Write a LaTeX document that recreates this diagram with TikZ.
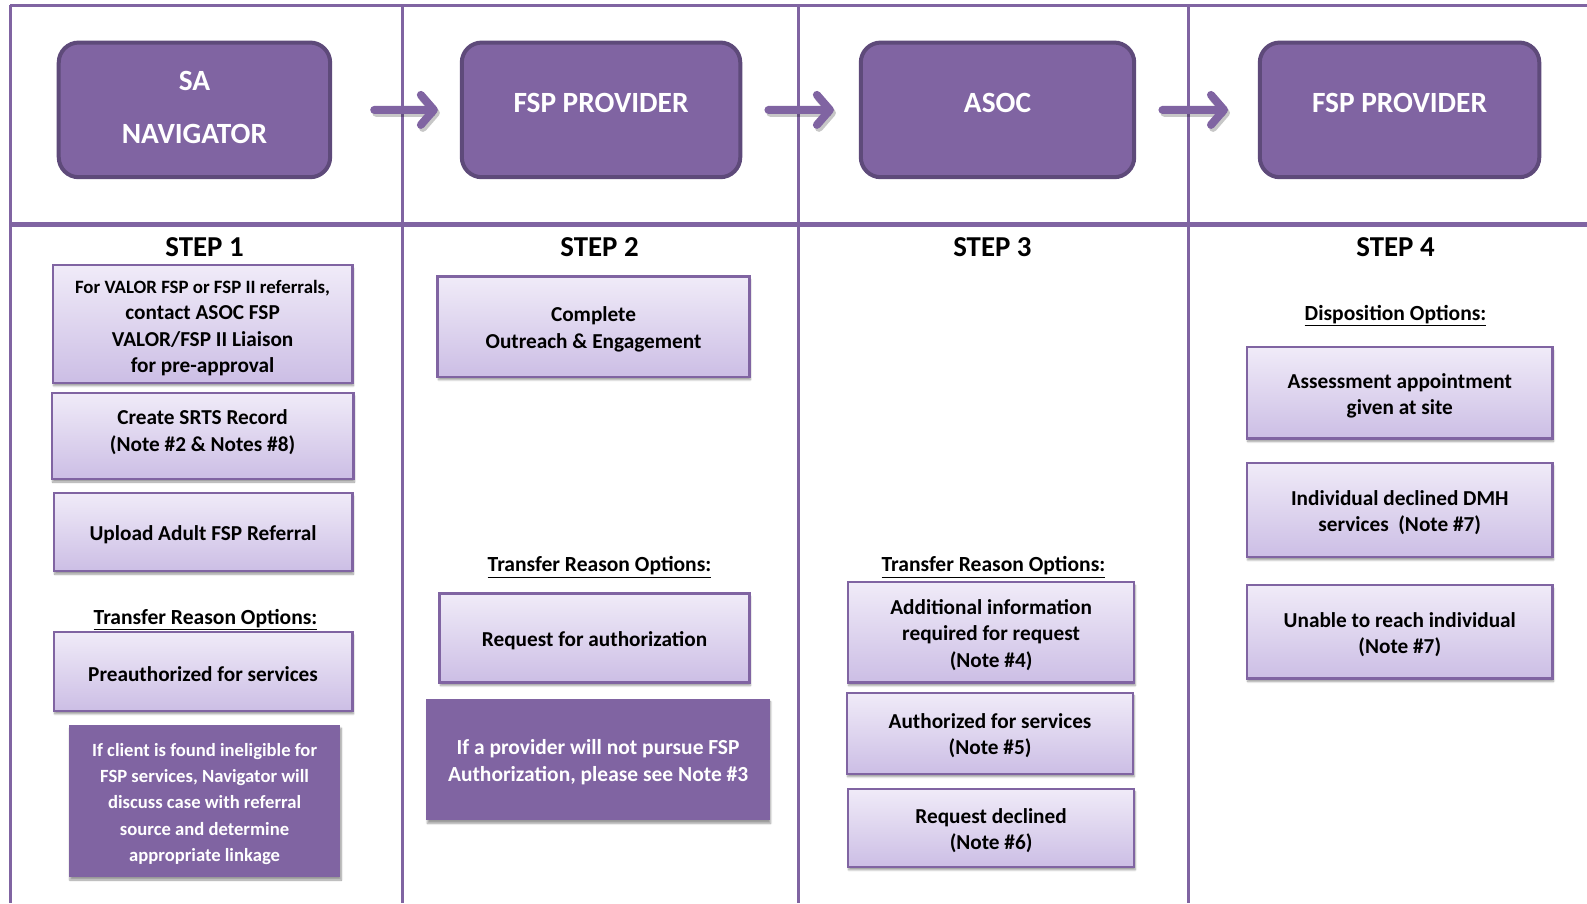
\documentclass[tikz,border=0pt]{standalone}
\usepackage{fontspec}
\setmainfont{Carlito}
\usetikzlibrary{arrows.meta,shadows.blur}
\definecolor{purp}{HTML}{8064A2}
\definecolor{purpdark}{HTML}{5E4A7A}
\definecolor{ltop}{RGB}{240,235,248}
\definecolor{lbot}{RGB}{204,190,229}
% #1 extra text shift, #2 box style, #3 name, #4 position, #5 width, #6 height, #7 text style, #8 text
\newcommand\tbox[8][0pt]{%
  \node[#2, minimum width=#5, minimum height=#6] (#3) at #4 {};
  \node[#7] (#3t) at ([yshift=-2.5pt+#1]#3.center) {#8};}
\begin{document}
\begin{tikzpicture}[x=1pt,y=-1pt, scale=1.0127, transform shape,
  grid/.style={draw=purp, line width=3pt},
  hdr/.style={draw=purpdark, fill=purp, line width=4pt, rounded corners=20pt,
    text=white, font=\fontsize{29}{52}\selectfont\bfseries, align=center, inner sep=0pt},
  hdrtxt/.style={text=white, font=\fontsize{29}{52}\selectfont\bfseries, align=center, inner sep=0pt},
  shd/.style={blur shadow={shadow xshift=1pt, shadow yshift=-3pt, shadow blur steps=6, shadow opacity=40}},
  lbox/.style={draw=purp, line width=2.2pt, top color=ltop, bottom color=lbot, inner sep=0pt, shd},
  ltxt/.style={font=\fontsize{21}{26}\selectfont\bfseries, align=center, inner sep=0pt},
  dbox/.style={fill=purp, inner sep=0pt, shd},
  dtxt/.style={text=white, align=center, inner sep=0pt},
  steplbl/.style={font=\fontsize{28.5}{30}\selectfont\bfseries, inner sep=0pt},
  optlbl/.style={font=\fontsize{21.3}{24}\selectfont\bfseries, inner sep=0pt},
  flow/.style={draw=purp, line width=8pt, line cap=round,
    -{Straight Barb[length=13pt,width=30pt,round]}},
  flowshd/.style={draw=black, opacity=0.22, line width=8pt, line cap=round,
    -{Straight Barb[length=13pt,width=30pt,round]}}
  ]
% grid
\draw[grid] (10,5) -- (1568,5);
\draw[grid] (10,5) -- (10,892);
\draw[grid] (397,5) -- (397,892);
\draw[grid] (788,5) -- (788,892);
\draw[grid] (1174,5) -- (1174,892);
\draw[draw=purp, line width=5pt] (10,222) -- (1568,222);
% headers
\node[hdr, minimum width=268pt, minimum height=133pt] (h1) at (192,108.5) {};
\node[hdrtxt] (h1t) at ([yshift=2.5pt]h1.center) {SA\\NAVIGATOR};
\node[hdr, minimum width=275pt, minimum height=133pt] (h2) at (593.5,108.5) {\raisebox{13pt}{FSP PROVIDER}};
\node[hdr, minimum width=270pt, minimum height=133pt] (h3) at (985,108.5) {\raisebox{13pt}{ASOC}};
\node[hdr, minimum width=276pt, minimum height=133pt] (h4) at (1382,108.5) {\raisebox{13pt}{FSP PROVIDER}};
\begin{scope}[transform canvas={shift={(2pt,-3pt)}}]
\draw[flowshd, shorten <=42pt, shorten >=22pt] (h1) -- (h2);
\draw[flowshd, shorten <=26pt, shorten >=25pt] (h2) -- (h3);
\draw[flowshd, shorten <=26pt, shorten >=30pt] (h3) -- (h4);
\end{scope}
\draw[flow, shorten <=42pt, shorten >=22pt] (h1) -- (h2);
\draw[flow, shorten <=26pt, shorten >=25pt] (h2) -- (h3);
\draw[flow, shorten <=26pt, shorten >=30pt] (h3) -- (h4);
% step labels
\node[steplbl] (s1) at (202,244) {STEP 1};
\node[steplbl] (s2) at (592,244) {STEP 2};
\node[steplbl] (s3) at (980,244) {STEP 3};
\node[steplbl] (s4) at (1378,244) {STEP 4};
% step 1
\tbox[-1.5pt]{lbox}{b1}{(200,320)}{296pt}{116pt}{ltxt}
  {{\fontsize{18.6}{26}\selectfont For VALOR FSP or FSP II referrals,}\\contact ASOC FSP\\VALOR/FSP II Liaison\\for pre-approval}
\tbox[6.5pt]{lbox}{b2}{(200,430.5)}{298pt}{85pt}{ltxt}
  {Create SRTS Record\\(Note \#2 \& Notes \#8)}
\tbox{lbox}{b3}{(200.5,525.5)}{295pt}{77pt}{ltxt}
  {Upload Adult FSP Referral}
\node[optlbl] (t1) at (203,612) {\underline{Transfer Reason Options:}};
\tbox{lbox}{b4}{(200.5,663)}{295pt}{78pt}{ltxt}
  {Preauthorized for services}
\tbox{dbox}{d1}{(202,791)}{268pt}{150pt}{dtxt, font=\fontsize{18.4}{26}\selectfont\bfseries}
  {If client is found ineligible for\\FSP services, Navigator will\\discuss case with referral\\source and determine\\appropriate linkage}
% step 2
\tbox{lbox}{c1}{(586,322.5)}{308pt}{99pt}{ltxt}
  {Complete\\Outreach \& Engagement}
\node[optlbl] (t2) at (592,560) {\underline{Transfer Reason Options:}};
\tbox{lbox}{c2}{(587,630)}{306pt}{88pt}{ltxt}
  {Request for authorization}
\tbox{dbox}{d2}{(590.5,750)}{339pt}{120pt}{dtxt, font=\fontsize{21.2}{26}\selectfont\bfseries}
  {If a provider will not pursue FSP\\Authorization, please see Note \#3}
% step 3
\node[optlbl] (t3) at (981,560) {\underline{Transfer Reason Options:}};
\tbox{lbox}{e1}{(978.5,624.5)}{283pt}{99pt}{ltxt}
  {Additional information\\required for request\\(Note \#4)}
\tbox{lbox}{e2}{(977.5,724)}{283pt}{80pt}{ltxt}
  {Authorized for services\\(Note \#5)}
\tbox{lbox}{e3}{(978.5,817.5)}{283pt}{77pt}{ltxt}
  {Request declined\\(Note \#6)}
% step 4
\node[optlbl] (t4) at (1378,312) {\underline{Disposition Options:}};
\tbox{lbox}{f1}{(1382,388)}{302pt}{90pt}{ltxt}
  {Assessment appointment\\given at site}
\tbox{lbox}{f2}{(1382,503.5)}{302pt}{93pt}{ltxt}
  {Individual declined DMH\\services~~(Note \#7)}
\tbox{lbox}{f3}{(1382,624)}{302pt}{92pt}{ltxt}
  {Unable to reach individual\\(Note \#7)}
\pgfresetboundingbox
\useasboundingbox (0,0) rectangle (1567.1,891.7);
\end{tikzpicture}
\end{document}
